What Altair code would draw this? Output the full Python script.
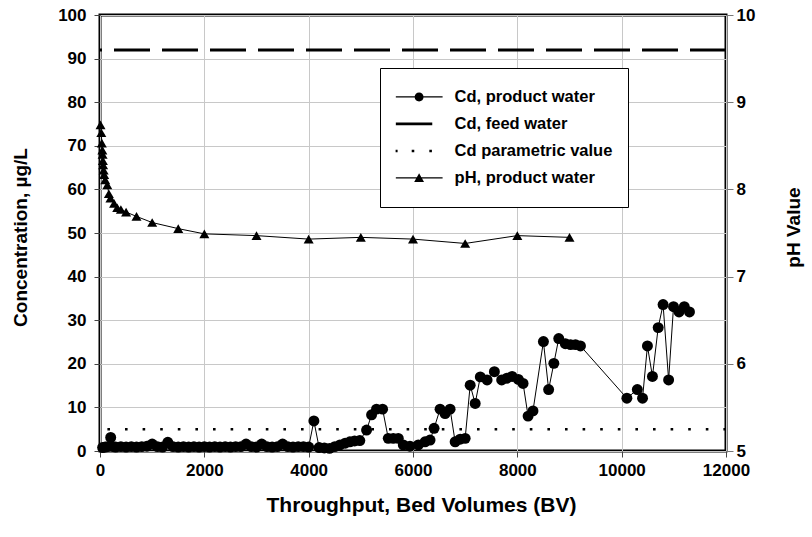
import altair as alt
import pandas as pd

# ---------------- data ----------------
cd_bv = [50, 100, 150, 205, 250, 300, 400, 500, 600, 700, 800, 900, 1000, 1100, 1200,
         1300, 1400, 1500, 1600, 1700, 1800, 1900, 2000, 2100, 2200, 2300, 2400, 2500,
         2600, 2700, 2800, 2900, 3000, 3100, 3200, 3300, 3400, 3500, 3600, 3700, 3800,
         3900, 4000, 4100, 4200, 4300, 4400, 4500, 4600, 4700, 4790, 4880, 4980, 5110,
         5206, 5300, 5417, 5526, 5622, 5718, 5814, 5942, 6102, 6231, 6327, 6404, 6519,
         6615, 6711, 6808, 6904, 7000, 7096, 7192, 7290, 7420, 7560, 7700, 7800, 7900,
         8020, 8110, 8206, 8300, 8500, 8600, 8700, 8794, 8920, 9020, 9115, 9210, 10100,
         10300, 10400, 10494, 10590, 10700, 10794, 10900, 10994, 11100, 11200, 11300]
cd_conc = [0.8, 0.9, 1.0, 3.1, 1.0, 0.9, 1.0, 0.9, 1.0, 0.9, 1.0, 1.1, 1.6, 1.0, 0.9,
           2.0, 1.0, 0.9, 1.0, 0.9, 1.0, 0.9, 1.0, 0.9, 1.0, 0.9, 1.0, 0.9,
           1.0, 1.0, 1.6, 1.0, 0.9, 1.6, 1.0, 0.9, 1.0, 1.6, 1.0, 0.9, 1.0,
           1.0, 0.9, 6.9, 0.8, 0.7, 0.6, 1.0, 1.4, 1.8, 2.1, 2.3, 2.4, 4.8,
           8.3, 9.6, 9.6, 2.9, 2.9, 2.9, 1.4, 1.1, 1.4, 2.1, 2.5, 5.2, 9.6,
           8.6, 9.6, 2.1, 2.7, 2.9, 15.1, 10.9, 17.0, 16.3, 18.2, 16.3, 16.7, 17.1,
           16.4, 15.5, 8.0, 9.2, 25.1, 14.1, 20.1, 25.8, 24.6, 24.4, 24.4, 24.1, 12.1,
           14.1, 12.1, 24.1, 17.1, 28.3, 33.6, 16.3, 33.1, 31.9, 33.1, 31.9]

ph_bv = [10, 25, 35, 45, 50, 55, 60, 70, 80, 100, 140, 170, 200, 270, 330, 400,
         500, 700, 1000, 1500, 2000, 3000, 4000, 5000, 6000, 7000, 8000, 9000]
ph_val = [8.74, 8.65, 8.53, 8.45, 8.40, 8.33, 8.28, 8.22, 8.17, 8.11, 8.05, 7.95,
          7.90, 7.84, 7.79, 7.77, 7.74, 7.69, 7.62, 7.55, 7.49, 7.47, 7.43, 7.45,
          7.43, 7.38, 7.47, 7.45]

feed_level = [92]
param_level = [5]

legend_labels = ["Cd, product water", "Cd, feed water",
                 "Cd parametric value", "pH, product water"]
x_ticks = [0, 2000, 4000, 6000, 8000, 10000, 12000]
y_ticks = [0, 10, 20, 30, 40, 50, 60, 70, 80, 90, 100]
ph_ticks = [5, 6, 7, 8, 9, 10]

# ---------------- tables ----------------
cd_df = pd.DataFrame({"BV": cd_bv, "Cd": cd_conc})
ph_df = pd.DataFrame({"BV": ph_bv, "pH": ph_val})
feed_df = pd.DataFrame({"Cd": feed_level})
param_df = pd.DataFrame({"Cd": param_level})
leg_df = pd.DataFrame({"series": legend_labels,
                       "BV": [0] * len(legend_labels),
                       "Cd": [0] * len(legend_labels)})

FONT = "Liberation Sans"
LBL = 17
TTL = 19

# legend glyphs (unit box, scaled by sqrt(symbolSize)/2)
legend_paths = [
    "M-1,-0.026H1V0.026H-1Z M0.19,0A0.19,0.19 0 1,1 -0.19,0A0.19,0.19 0 1,1 0.19,0Z",
    "M-1,-0.06H0.56V0.06H-1Z",
    "M-1.025,-0.055h0.11v0.11h-0.11Z M-0.315,-0.055h0.11v0.11h-0.11Z M0.435,-0.055h0.11v0.11h-0.11Z",
    "M-1,-0.026H1V0.026H-1Z M0,-0.2L0.21,0.17H-0.21Z",
]

x_enc = alt.X(
    "BV:Q",
    scale=alt.Scale(domain=[0, 12000], nice=False, zero=True),
    axis=alt.Axis(
        values=x_ticks, format="d", title="Throughput, Bed Volumes (BV)",
        grid=True, gridColor="#c8c8c8", gridWidth=1, domain=False,
        tickColor="#444", tickSize=6, labelPadding=5, labelFlush=False,
        labelFont=FONT, labelFontSize=LBL, labelFontWeight="bold", labelColor="black",
        titleFont=FONT, titleFontSize=21, titleFontWeight="bold", titleColor="black",
        titleX=321, titleY=54, titleBaseline="middle", titleAlign="center",
    ),
)

y_enc = alt.Y(
    "Cd:Q",
    scale=alt.Scale(domain=[0, 100], nice=False),
    axis=alt.Axis(
        values=y_ticks, title="Concentration, µg/L", orient="left",
        grid=True, gridColor="#c8c8c8", gridWidth=1, domain=False,
        tickColor="#444", tickSize=6, labelPadding=8,
        labelFont=FONT, labelFontSize=LBL, labelFontWeight="bold", labelColor="black",
        titleFont=FONT, titleFontSize=TTL, titleFontWeight="bold", titleColor="black",
        titleX=-80, titleY=222, titleBaseline="middle", titleAlign="center", titleAngle=270,
    ),
)

y_ph = alt.Y(
    "pH:Q",
    scale=alt.Scale(domain=[5, 10], nice=False, zero=False),
    axis=alt.Axis(
        values=ph_ticks, title="pH Value", orient="right",
        grid=False, domain=False,
        tickColor="#777", tickSize=7, labelPadding=3,
        labelFont=FONT, labelFontSize=LBL, labelFontWeight="bold", labelColor="black",
        titleFont=FONT, titleFontSize=TTL, titleFontWeight="bold", titleColor="black",
        titleX=67, titleY=212, titleBaseline="middle", titleAlign="center", titleAngle=270,
    ),
)

feed = alt.Chart(feed_df).mark_rule(
    color="black", strokeWidth=3, strokeDash=[36, 12]
).encode(y=y_enc)

param = alt.Chart(param_df).mark_rule(
    color="black", strokeWidth=2.6, strokeDash=[2.6, 15]
).encode(y=y_enc)

cd_line = alt.Chart(cd_df).mark_line(color="black", strokeWidth=1).encode(
    x=x_enc, y=y_enc, order="BV:Q")
cd_pts = alt.Chart(cd_df).mark_point(
    shape="circle", filled=True, color="black", opacity=1, size=120, strokeWidth=0
).encode(x=x_enc, y=y_enc)

legend_layer = alt.Chart(leg_df).mark_point(
    filled=True, color="black", opacity=0
).encode(
    x=x_enc, y=y_enc,
    shape=alt.Shape(
        "series:N",
        scale=alt.Scale(domain=legend_labels, range=legend_paths),
        legend=alt.Legend(
            title=None, orient="none", legendX=280, legendY=53,
            symbolSize=2209, clipHeight=26.7, padding=15.6, rowPadding=0,
            labelOffset=12, labelFont=FONT, labelFontSize=16.5, labelFontWeight="bold",
            labelColor="black", labelLimit=400,
            strokeColor="black", fillColor="white", cornerRadius=0,
            symbolFillColor="black", symbolStrokeColor="black",
            symbolStrokeWidth=0, symbolOpacity=1,
        ),
    ),
)

ph_line = alt.Chart(ph_df).mark_line(color="black", strokeWidth=1).encode(
    x=x_enc, y=y_ph, order="BV:Q")
ph_pts = alt.Chart(ph_df).mark_point(
    shape="triangle-up", filled=True, color="black", opacity=1, size=100, strokeWidth=0
).encode(x=x_enc, y=y_ph)

left = alt.layer(feed, param, cd_line, cd_pts, legend_layer)
right = alt.layer(ph_line, ph_pts)

chart = alt.layer(left, right).resolve_scale(y="independent").properties(
    width=626, height=436,
    autosize=alt.AutoSizeParams(type="none"),
    padding={"left": 100, "top": 15, "right": 86, "bottom": 86},
    background="white",
).configure_view(stroke="black", strokeWidth=3)

chart.save("out.html", embed_options={"renderer": "svg", "actions": False})
